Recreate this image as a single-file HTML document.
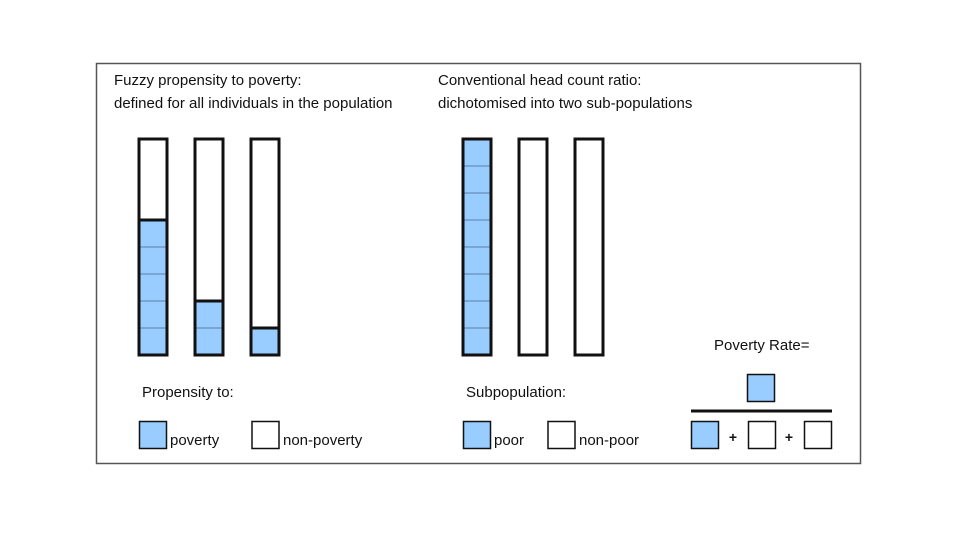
<!DOCTYPE html>
<html><head><meta charset="utf-8"><style>
body{margin:0;width:960px;height:540px;background:#fff;font-family:"Liberation Sans",sans-serif;}
svg text{font-family:"Liberation Sans",sans-serif;fill:#111;}
</style></head><body>
<svg width="960" height="540">
<rect x="96.5" y="63.5" width="764" height="400" fill="#fff" stroke="#555" stroke-width="1.5"/>
<text x="114" y="85" font-size="15">Fuzzy propensity to poverty:</text>
<text x="114" y="108" font-size="15">defined for all individuals in the population</text>
<text x="438" y="85" font-size="15">Conventional head count ratio:</text>
<text x="438" y="108" font-size="15">dichotomised into two sub-populations</text>
<g id="bars"></g>
<text x="142" y="397" font-size="15">Propensity to:</text>
<rect x="139.5" y="421.5" width="27" height="27" fill="#99ccff" stroke="#111" stroke-width="1.5"/>
<text x="170" y="445" font-size="15">poverty</text>
<rect x="252" y="421.5" width="27" height="27" fill="#fff" stroke="#111" stroke-width="1.5"/>
<text x="283" y="445" font-size="15">non-poverty</text>
<text x="466" y="397" font-size="15">Subpopulation:</text>
<rect x="463.5" y="421.5" width="27" height="27" fill="#99ccff" stroke="#111" stroke-width="1.5"/>
<text x="494" y="445" font-size="15">poor</text>
<rect x="548" y="421.5" width="27" height="27" fill="#fff" stroke="#111" stroke-width="1.5"/>
<text x="579" y="445" font-size="15">non-poor</text>
<text x="714" y="350" font-size="15">Poverty Rate=</text>
<rect x="747.5" y="374.5" width="27" height="27" fill="#99ccff" stroke="#111" stroke-width="1.5"/>
<line x1="691" y1="411" x2="832" y2="411" stroke="#111" stroke-width="3"/>
<rect x="691.5" y="421.5" width="27" height="27" fill="#99ccff" stroke="#111" stroke-width="1.5"/>
<text x="733" y="442" font-size="14" font-weight="bold" text-anchor="middle">+</text>
<rect x="748.5" y="421.5" width="27" height="27" fill="#fff" stroke="#111" stroke-width="1.5"/>
<text x="789" y="442" font-size="14" font-weight="bold" text-anchor="middle">+</text>
<rect x="804.5" y="421.5" width="27" height="27" fill="#fff" stroke="#111" stroke-width="1.5"/>
</svg>
<script>
const barNames=['fuzzy-1','fuzzy-2','fuzzy-3','hcr-1','hcr-2','hcr-3'];
const filledSegments=[5,2,1,8,0,0];
const totalSegments=8;
const barX=[139,195,251,463,519,575];
const g=document.getElementById('bars');
const NS='http://www.w3.org/2000/svg';
const top0=139,bottom=355,w=28,seg=(bottom-top0)/totalSegments;
function yOf(v){return bottom-v*seg;}
filledSegments.forEach((n,i)=>{
  const x=barX[i];
  const grp=document.createElementNS(NS,'g');
  
  
  const bg=document.createElementNS(NS,'rect');
  bg.setAttribute('x',x);bg.setAttribute('y',top0);bg.setAttribute('width',w);bg.setAttribute('height',bottom-top0);bg.setAttribute('fill','#fff');
  grp.appendChild(bg);
  if(n>0){
    const f=document.createElementNS(NS,'rect');
    
    
    f.setAttribute('x',x);f.setAttribute('y',yOf(n));f.setAttribute('width',w);f.setAttribute('height',bottom-yOf(n));f.setAttribute('fill','#99ccff');
    grp.appendChild(f);
    for(let k=1;k<n;k++){
      const l=document.createElementNS(NS,'line');
      l.setAttribute('x1',x);l.setAttribute('x2',x+w);l.setAttribute('y1',yOf(k));l.setAttribute('y2',yOf(k));
      l.setAttribute('stroke','#5a7fa8');l.setAttribute('stroke-width','1');
      grp.appendChild(l);
    }
    if(n<totalSegments){
      const b=document.createElementNS(NS,'line');
      b.setAttribute('x1',x);b.setAttribute('x2',x+w);b.setAttribute('y1',yOf(n));b.setAttribute('y2',yOf(n));
      b.setAttribute('stroke','#111');b.setAttribute('stroke-width','3');
      grp.appendChild(b);
    }
  }
  const o=document.createElementNS(NS,'rect');
  o.setAttribute('x',x);o.setAttribute('y',top0);o.setAttribute('width',w);o.setAttribute('height',bottom-top0);
  o.setAttribute('fill','none');o.setAttribute('stroke','#111');o.setAttribute('stroke-width','3');
  grp.appendChild(o);
  g.appendChild(grp);
});
</script>
</body></html>
